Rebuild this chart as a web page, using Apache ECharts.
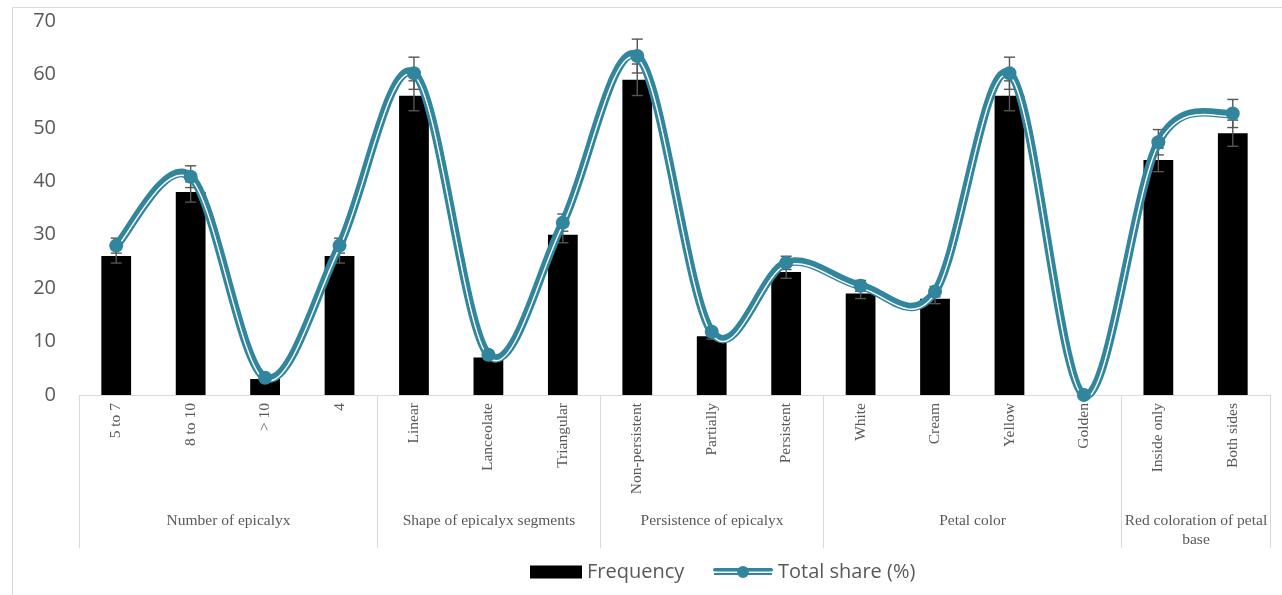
<!DOCTYPE html>
<html>
<head>
<meta charset="utf-8">
<script src="https://cdn.jsdelivr.net/npm/echarts@6/dist/echarts.min.js"></script>
<style>
  html, body { margin: 0; padding: 0; background: #ffffff; }
  #chart { width: 1282px; height: 595px; }
</style>
</head>
<body>
<div id="chart"></div>
<script>
// Epicalyx and petal traits: frequency of each state and its share within the trait
const categories = ['5 to 7', '8 to 10', '> 10', '4', 'Linear', 'Lanceolate', 'Triangular',
  'Non-persistent', 'Partially', 'Persistent', 'White', 'Cream', 'Yellow', 'Golden',
  'Inside only', 'Both sides'];
const frequency = [26, 38, 3, 26, 56, 7, 30, 59, 11, 23, 19, 18, 56, 0, 44, 49];
const totalShare = [27.96, 40.86, 3.23, 27.96, 60.22, 7.53, 32.26, 63.44, 11.83, 24.73,
  20.43, 19.35, 60.22, 0, 47.31, 52.69];
const frequencyError = [1.3, 1.9, 0.15, 1.3, 2.8, 0.35, 1.5, 2.95, 0.55, 1.15, 0.95, 0.9,
  2.8, 0, 2.2, 2.45];
const shareError = [1.4, 2.04, 0.16, 1.4, 3.01, 0.38, 1.61, 3.17, 0.59, 1.24, 1.02, 0.97,
  3.01, 0, 2.37, 2.63];
const groupNames = ['Number of epicalyx', 'Shape of epicalyx segments', 'Persistence of epicalyx',
  'Petal color', 'Red coloration of petal\nbase'];
const groupSizes = [4, 3, 3, 4, 2];
const yMin = 0, yMax = 70, yStep = 10;

const TEAL = '#31859C';
const GREY_TEXT = '#595959';
const RULE = '#d9d9d9';
const SERIF = '"Liberation Serif", "Times New Roman", serif';
const SANS = '"Open Sans", "Liberation Sans", sans-serif';

// first/last category index of every trait group
const groupSpans = [];
let start = 0;
groupSizes.forEach((n, g) => {
  groupSpans.push([start, start + n - 1, g]);
  start += n;
});

function errorBarItem(params, api) {
  const i = api.value(0), v = api.value(1), e = api.value(2);
  if (!e) return null;
  const hi = api.coord([i, v + e]);
  const lo = api.coord([i, v - e]);
  const x = hi[0], cap = 5.5;
  const style = { stroke: '#555555', lineWidth: 1.4 };
  return {
    type: 'group',
    children: [
      { type: 'line', shape: { x1: x, y1: hi[1], x2: x, y2: lo[1] }, style },
      { type: 'line', shape: { x1: x - cap, y1: hi[1], x2: x + cap, y2: hi[1] }, style },
      { type: 'line', shape: { x1: x - cap, y1: lo[1], x2: x + cap, y2: lo[1] }, style }
    ]
  };
}

// Catmull-Rom style smoothed segment from point i to point i + 1,
// drawn as a teal band with a thin white core set slightly below centre
function shareSegmentItem(params, api) {
  const i = api.value(0);
  const n = totalShare.length;
  if (i >= n - 1) return null;
  const pt = (j) => api.coord([j, totalShare[Math.max(0, Math.min(n - 1, j))]]);
  const p0 = pt(i), p1 = pt(i + 1);
  const pm = i > 0 ? pt(i - 1) : p0;
  const pn = i + 2 < n ? pt(i + 2) : p1;
  const k = 1 / 6;
  const shape = {
    x1: p0[0], y1: p0[1],
    cpx1: p0[0] + (p1[0] - pm[0]) * k, cpy1: p0[1] + (p1[1] - pm[1]) * k,
    cpx2: p1[0] - (pn[0] - p0[0]) * k, cpy2: p1[1] - (pn[1] - p0[1]) * k,
    x2: p1[0], y2: p1[1]
  };
  const dy = 2.3;
  const core = {
    x1: shape.x1, y1: shape.y1 + dy, cpx1: shape.cpx1, cpy1: shape.cpy1 + dy,
    cpx2: shape.cpx2, cpy2: shape.cpy2 + dy, x2: shape.x2, y2: shape.y2 + dy
  };
  return {
    type: 'group',
    children: [
      { type: 'bezierCurve', shape, style: { stroke: TEAL, lineWidth: 8.5, fill: null, lineCap: 'round' } },
      { type: 'bezierCurve', shape: core, style: { stroke: '#ffffff', lineWidth: 1.4, fill: null, lineCap: 'round' } }
    ]
  };
}

// group dividers under the axis and the trait names
function groupItem(params, api) {
  const s = api.value(0), e = api.value(1), g = api.value(2);
  const band = api.size([1, 0])[0];
  const p0 = api.coord([s, yMin]);
  const p1 = api.coord([e, yMin]);
  const xl = Math.round(p0[0] - band / 2) + 0.5;
  const xr = Math.round(p1[0] + band / 2) + 0.5;
  const y0 = p0[1];
  const depth = 153;
  const lineStyle = { stroke: RULE, lineWidth: 1 };
  const children = [
    { type: 'line', shape: { x1: xl, y1: y0, x2: xl, y2: y0 + depth }, style: lineStyle }
  ];
  if (g === groupSizes.length - 1) {
    children.push({ type: 'line', shape: { x1: xr, y1: y0, x2: xr, y2: y0 + depth }, style: lineStyle });
  }
  children.push({
    type: 'text',
    style: {
      x: (xl + xr) / 2, y: y0 + 116,
      text: groupNames[g],
      align: 'center', verticalAlign: 'top',
      font: '15.5px ' + SERIF, lineHeight: 19,
      fill: GREY_TEXT
    }
  });
  return { type: 'group', children };
}

const legendIcon = 'path://M1.5,3H58.5A1.8,1.8 0 0,1 58.5,6.6H1.5A1.8,1.8 0 0,1 1.5,3Z ' +
  'M1.5,7.9H58.5A1.05,1.05 0 0,1 58.5,10H1.5A1.05,1.05 0 0,1 1.5,7.9Z ' +
  'M24,7a6,6 0 1,1 12,0a6,6 0 1,1 -12,0Z';

const chart = echarts.init(document.getElementById('chart'), null, { renderer: 'canvas' });

chart.setOption({
  backgroundColor: '#ffffff',
  animation: false,
  graphic: [{
    type: 'rect',
    shape: { x: 12.5, y: 7.5, width: 1300, height: 620 },
    style: { fill: 'none', stroke: RULE, lineWidth: 1 },
    silent: true
  }],
  grid: { left: 79, right: 12, top: 21, bottom: 200 },
  legend: [
    {
      data: ['Frequency'],
      left: 530, top: 562, padding: 0,
      icon: 'rect', itemWidth: 52, itemHeight: 13,
      textStyle: { fontFamily: SANS, fontSize: 20, color: GREY_TEXT },
      selectedMode: false
    },
    {
      data: [{ name: 'Total share (%)', icon: legendIcon, itemStyle: { color: TEAL } }],
      left: 713, top: 562, padding: 0,
      itemWidth: 60, itemHeight: 12,
      textStyle: { fontFamily: SANS, fontSize: 20, color: GREY_TEXT },
      selectedMode: false
    }
  ],
  xAxis: {
    type: 'category', data: categories,
    axisLine: { lineStyle: { color: RULE, width: 1 } },
    axisTick: { show: false },
    axisLabel: {
      interval: 0, rotate: 90, margin: 8,
      fontFamily: SERIF, fontSize: 15.5, color: GREY_TEXT
    }
  },
  yAxis: {
    type: 'value', min: yMin, max: yMax, interval: yStep,
    axisLine: { show: false }, axisTick: { show: false },
    splitLine: { show: false },
    axisLabel: { margin: 23, fontFamily: SANS, fontSize: 20, color: GREY_TEXT }
  },
  series: [
    {
      name: 'Frequency', type: 'bar', data: frequency,
      barWidth: '40%', itemStyle: { color: '#000000' }, z: 2
    },
    {
      type: 'custom', renderItem: errorBarItem, silent: true, z: 3,
      data: frequency.map((v, i) => [i, v, frequencyError[i]]),
      encode: { x: 0, y: 1 }
    },
    {
      type: 'custom', renderItem: errorBarItem, silent: true, z: 3,
      data: totalShare.map((v, i) => [i, v, shareError[i]]),
      encode: { x: 0, y: 1 }
    },
    {
      name: 'Total share (%)', type: 'custom', renderItem: shareSegmentItem,
      silent: true, clip: false, z: 4,
      itemStyle: { color: TEAL },
      data: totalShare.map((v, i) => [i, v]),
      encode: { x: 0, y: 1 }
    },
    {
      name: 'Total share (%)', type: 'line', data: totalShare,
      symbol: 'circle', symbolSize: 14, showSymbol: true,
      lineStyle: { width: 0, opacity: 0 }, itemStyle: { color: TEAL }, z: 6
    },
    {
      type: 'custom', renderItem: groupItem, silent: true, clip: false, z: 1,
      data: groupSpans,
      encode: { x: [0, 1] }
    }
  ]
});
</script>
</body>
</html>
